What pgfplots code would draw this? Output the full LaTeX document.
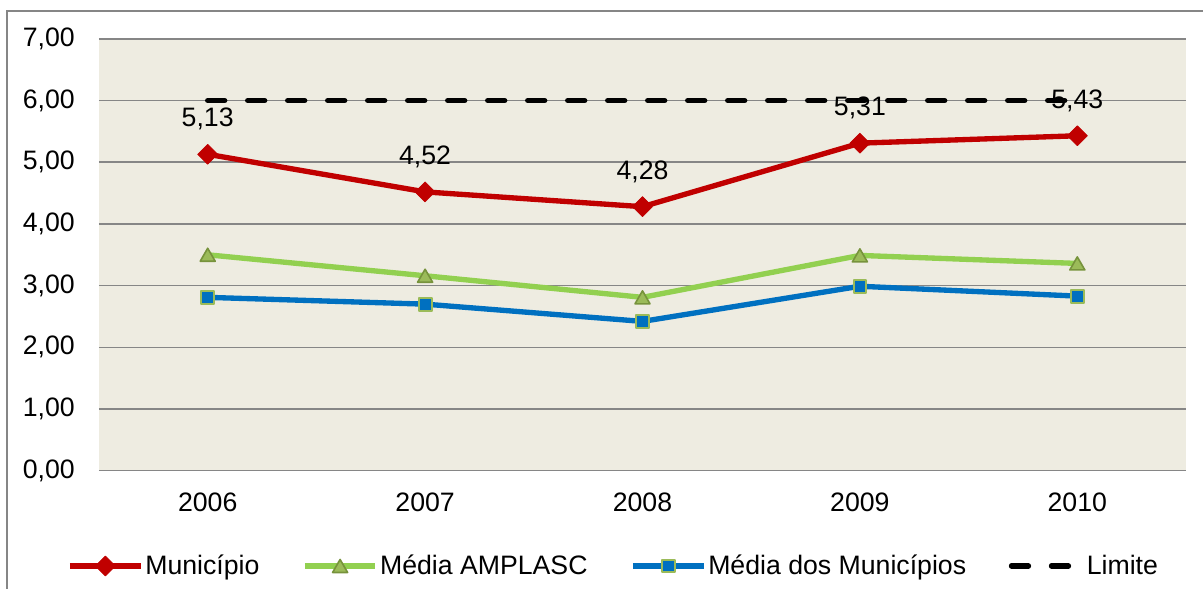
\documentclass[border=0pt]{standalone}
\usepackage{fontspec}
\setmainfont{Liberation Sans}
\usepackage{pgfplots}
\pgfplotsset{compat=1.18}
\definecolor{bgtan}{HTML}{EEECE1}
\definecolor{gridgray}{HTML}{868686}
\definecolor{munred}{HTML}{C00000}
\definecolor{amplgreen}{HTML}{92D050}
\definecolor{olivefill}{HTML}{9BBB59}
\definecolor{olivedark}{HTML}{77933C}
\definecolor{medblue}{HTML}{0070C0}
\newcommand{\chartfont}{\fontsize{20}{24}\selectfont}
\begin{document}
\begin{tikzpicture}[font=\chartfont]
\path[use as bounding box] (-74.25pt,-88.7pt) rectangle (828pt,353pt);
\draw[gridgray, line width=1.5pt] (-68.8pt,-100pt) -- (-68.8pt,344.8pt) -- (840pt,344.8pt);
\begin{axis}[
  scale only axis, width=815.25pt, height=323.8pt,
  xmin=-0.5, xmax=4.5, ymin=0, ymax=7,
  xtick={0,1,2,3,4}, xticklabels={2006,2007,2008,2009,2010},
  ytick={0,1,2,3,4,5,6,7},
  axis background/.style={fill=bgtan},
  axis line style={draw=none},
  major tick length=0pt,
  ymajorgrids, grid style={gridgray, line width=1.2pt},
  yticklabel style={/pgf/number format/.cd, fixed, fixed zerofill, precision=2, use comma, assume math mode=true, /tikz/.cd, inner sep=0pt, xshift=-18pt, font=\chartfont},
  xticklabel style={inner sep=0pt, yshift=-16.5pt, font=\chartfont},
  legend columns=4,
  legend cell align=left,
  legend style={at={(-0.0294,-0.2208)}, anchor=west, draw=none, fill=none, inner sep=0pt,
    font=\chartfont,
    nodes={inner sep=0pt},
    /tikz/every odd column/.append style={column sep=1.5pt},
    /tikz/every even column/.append style={column sep=32pt}},
  legend image code/.code={\draw[mark repeat=2, mark phase=2, #1] plot coordinates {(0pt,0pt) (26.5pt,0pt) (53pt,0pt)};},
]
\addplot[munred, line width=4pt, line join=round, mark=square*, mark size=5.3pt,
  mark options={rotate=45, solid, fill=munred, draw=munred, line width=0.5pt}]
  coordinates {(0,5.13) (1,4.52) (2,4.28) (3,5.31) (4,5.43)};
\addlegendentry{Município}
\addplot[amplgreen, line width=4pt, line join=round, mark=triangle*, mark size=6.5pt,
  mark options={solid, fill=olivefill, draw=olivedark, line width=1.2pt, yshift=-1.6pt}]
  coordinates {(0,3.50) (1,3.16) (2,2.81) (3,3.49) (4,3.36)};
\addlegendentry{Média AMPLASC}
\addplot[medblue, line width=4pt, line join=round, mark=square*, mark size=4.8pt,
  mark options={solid, fill=medblue, draw=olivefill, line width=1.5pt}]
  coordinates {(0,2.81) (1,2.70) (2,2.42) (3,2.99) (4,2.83)};
\addlegendentry{Média dos Municípios}
\addplot[black, line width=4pt, line cap=round, dash pattern=on 12.75pt off 17.25pt]
  coordinates {(0,6) (1,6) (2,6) (3,6) (4,6)};
\addlegendentry{Limite}
\addplot[draw=none, forget plot, nodes near coords,
  nodes near coords style={anchor=center, yshift=26.25pt, text=black, font=\chartfont,
    /pgf/number format/.cd, fixed, fixed zerofill, precision=2, use comma, assume math mode=true}]
  coordinates {(0,5.13) (1,4.52) (2,4.28) (3,5.31) (4,5.43)};
\end{axis}
\end{tikzpicture}
\end{document}
